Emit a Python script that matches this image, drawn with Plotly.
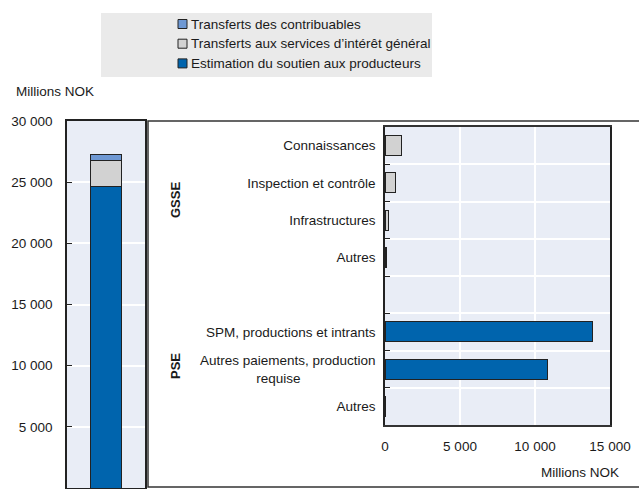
import plotly.graph_objects as go

# ---- data (millions NOK) ----
total_series = ["Estimation du soutien aux producteurs",
                "Transferts aux services d'intérêt général",
                "Transferts des contribuables"]
total_values = [24650, 2120, 510]

legend_labels = ["Transferts des contribuables",
                 "Transferts aux services d’intérêt général",
                 "Estimation du soutien aux producteurs"]

gsse_labels = ["Connaissances", "Inspection et contrôle", "Infrastructures", "Autres"]
gsse_values = [1120, 700, 220, 90]
pse_labels = ["SPM, productions et intrants",
              "Autres paiements, production<br>requise" + "\u00a0" * 20,
              "Autres"]
pse_values = [13800, 10850, 60]

# ---- styling ----
W, H = 639, 489
BLUE = "#0064AD"
LIGHT_BLUE = "#6E98D3"
GREY = "#D2D2D2"
EDGE = "#222222"
PLOT_BG = "#E9EDF6"
FONT = "Liberation Sans, Arial, sans-serif"
TXT = "#1a1a1a"

colors = {total_series[0]: BLUE, total_series[1]: GREY, total_series[2]: LIGHT_BLUE}


def px(x):
    return x / W


def py(y):
    return 1 - y / H


fig = go.Figure()

# stacked total bar (left panel)
for name, val in zip(total_series, total_values):
    fig.add_trace(go.Bar(
        x=[0], y=[val], name=name, width=0.41,
        marker=dict(color=colors[name], line=dict(color=EDGE, width=1)),
        xaxis="x", yaxis="y", showlegend=False,
    ))

# breakdown bars (right panel), one slot left empty between GSSE and PSE
labels = gsse_labels + [""] + pse_labels
values = gsse_values + [None] + pse_values
bar_colors = [GREY] * len(gsse_labels) + [GREY] + [BLUE] * len(pse_labels)
positions = list(range(len(labels)))
fig.add_trace(go.Bar(
    x=values, y=positions, orientation="h", width=0.54,
    marker=dict(color=bar_colors, line=dict(color=EDGE, width=1)),
    xaxis="x2", yaxis="y2", showlegend=False,
))

tick_pos = [p for p, l in zip(positions, labels) if l]
tick_txt = [l for l in labels if l]
boundaries = [p + 0.5 for p in positions[:-1]]

fig.update_layout(
    width=W, height=H,
    margin=dict(l=0, r=0, t=0, b=0, autoexpand=False),
    paper_bgcolor="white",
    plot_bgcolor=PLOT_BG,
    barmode="stack",
    separators=", ",
    font=dict(family=FONT, size=13.5, color=TXT),
    showlegend=False,
    xaxis=dict(domain=[px(67), px(145)], range=[-0.5, 0.5], showticklabels=False,
               showgrid=False, zeroline=False, showline=True, linecolor=EDGE,
               linewidth=1.5, mirror=True, ticks="", automargin=False),
    yaxis=dict(domain=[py(488), py(121)], range=[0, 30000], dtick=5000,
               tickformat=",d", showgrid=True, gridcolor="white", gridwidth=1.5,
               zeroline=False, showline=True, linecolor=EDGE, linewidth=1.5,
               mirror=True, ticks="inside", ticklen=5, tickcolor=EDGE,
               ticklabelstandoff=10, automargin=False),
    xaxis2=dict(domain=[px(385), px(610)], range=[0, 15000], dtick=5000,
                tickformat=",d", showgrid=True, gridcolor="white", gridwidth=1.5,
                zeroline=False, showline=True, linecolor="#333333", linewidth=1.5,
                mirror=True, ticks="", anchor="y2", ticklabelstandoff=8,
                automargin=False),
    yaxis2=dict(domain=[py(425), py(127)], range=[len(labels) - 0.5, -0.5],
                tickmode="array", tickvals=tick_pos, ticktext=tick_txt,
                showgrid=False, zeroline=False, showline=True, linecolor=EDGE,
                linewidth=1.5, mirror=True, ticks="", anchor="x2",
                ticklabelstandoff=5, automargin=False,
                minor=dict(tickmode="array", tickvals=boundaries, ticks="inside",
                           ticklen=5, tickcolor=EDGE, showgrid=True,
                           gridcolor="white", gridwidth=1.5)),
)

shapes = [
    # legend background
    dict(type="rect", xref="paper", yref="paper", x0=px(101), x1=px(432),
         y0=py(77), y1=py(13), fillcolor="#EAEAEA", line=dict(width=0), layer="below"),
    # frame around the breakdown panel
    dict(type="rect", xref="paper", yref="paper", x0=px(148), x1=px(660),
         y0=py(487), y1=py(121), line=dict(color="#333333", width=1.5),
         fillcolor="rgba(0,0,0,0)"),
]
annotations = []

legend_colors = [LIGHT_BLUE, GREY, BLUE]
for i, (lab, col) in enumerate(zip(legend_labels, legend_colors)):
    yc = 24 + i * 19.7
    shapes.append(dict(type="rect", xref="paper", yref="paper",
                       x0=px(178), x1=px(187), y0=py(yc + 4.5), y1=py(yc - 4.5),
                       fillcolor=col, line=dict(color=EDGE, width=1)))
    annotations.append(dict(text=lab, xref="paper", yref="paper", x=px(188.5),
                            y=py(yc), xanchor="left", yanchor="middle",
                            showarrow=False, font=dict(size=13.5)))

annotations += [
    dict(text="Millions NOK", xref="paper", yref="paper", x=px(14), y=py(92),
         xanchor="left", yanchor="middle", showarrow=False),
    dict(text="Millions NOK", xref="paper", yref="paper", x=px(621), y=py(472),
         xanchor="right", yanchor="middle", showarrow=False),
    dict(text="<b>GSSE</b>", xref="paper", yref="paper", x=px(175), y=py(200),
         xanchor="center", yanchor="middle", textangle=-90, showarrow=False,
         font=dict(size=13)),
    dict(text="<b>PSE</b>", xref="paper", yref="paper", x=px(175), y=py(366),
         xanchor="center", yanchor="middle", textangle=-90, showarrow=False,
         font=dict(size=13)),
]

fig.update_layout(shapes=shapes, annotations=annotations)
fig.write_html("out.html")
